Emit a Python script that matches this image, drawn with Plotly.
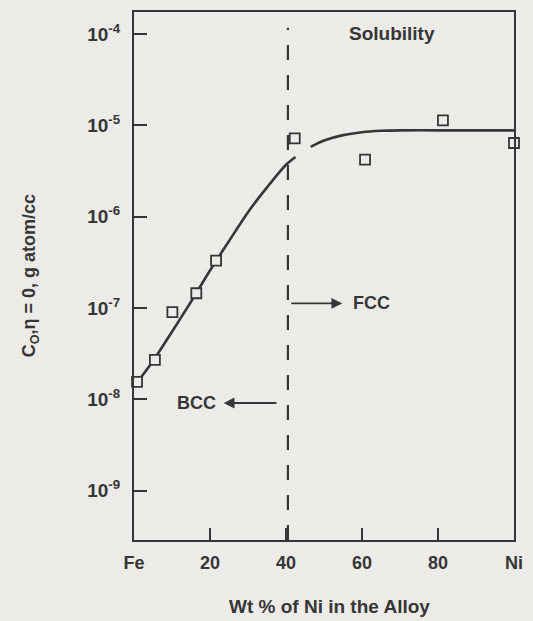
import plotly.graph_objects as go

# Data
pts_x = [0.8, 5.5, 10.1, 16.4, 21.6, 42.3, 60.8, 81.3, 100]
pts_y = [1.55e-8, 2.7e-8, 9.0e-8, 1.45e-7, 3.3e-7, 7.2e-6, 4.2e-6, 1.13e-5, 6.4e-6]

curve_x = [0, 5, 10, 15, 20, 25, 30, 35, 40, 42.5, None, 46.5, 50, 55, 60, 65, 70, 80, 90, 100]
curve_y = [1.38e-8, 2.63e-8, 5.5e-8, 1.17e-7, 2.57e-7, 5.4e-7, 1.12e-6, 2.09e-6, 3.7e-6, 4.5e-6, None,
           5.8e-6, 6.8e-6, 7.8e-6, 8.4e-6, 8.7e-6, 8.8e-6, 8.8e-6, 8.8e-6, 8.8e-6]

x_ticks = [0, 20, 40, 60, 80, 100]
x_labels = ["Fe", "20", "40", "60", "80", "Ni"]
y_ticks = [1e-9, 1e-8, 1e-7, 1e-6, 1e-5, 1e-4]
y_labels = ["10<sup>-9</sup>", "10<sup>-8</sup>", "10<sup>-7</sup>", "10<sup>-6</sup>",
            "10<sup>-5</sup>", "10<sup>-4</sup>"]

bg = "#ecebe8"
ink = "#363636"

fig = go.Figure()
fig.add_trace(go.Scatter(x=curve_x, y=curve_y, mode="lines",
                         line=dict(color=ink, width=2.6, shape="spline", smoothing=0.8),
                         connectgaps=False, hoverinfo="skip", showlegend=False, cliponaxis=False))
fig.add_trace(go.Scatter(x=pts_x, y=pts_y, mode="markers",
                         marker=dict(symbol="square", size=10, color=bg, line=dict(color=ink, width=1.8)),
                         showlegend=False, cliponaxis=False))

fig.add_shape(type="line", xref="x", yref="paper", x0=40.5, x1=40.5, y0=0, y1=0.97,
              line=dict(color=ink, width=2.2, dash="longdash"))

font = "Liberation Sans, Arial, sans-serif"
# FCC arrow
fig.add_annotation(x=54.8, y=-6.95, ax=41, ay=-6.95, xref="x", yref="y", axref="x", ayref="y",
                   showarrow=True, arrowhead=2, arrowsize=1.2, arrowwidth=1.8, arrowcolor=ink, text="")
fig.add_annotation(x=62.6, y=-6.95, xref="x", yref="y", text="<b>FCC</b>", showarrow=False,
                   font=dict(family=font, size=18, color=ink))
# BCC arrow
fig.add_annotation(x=23.6, y=-8.04, ax=37.9, ay=-8.04, xref="x", yref="y", axref="x", ayref="y",
                   showarrow=True, arrowhead=2, arrowsize=1.2, arrowwidth=1.8, arrowcolor=ink, text="")
fig.add_annotation(x=16.5, y=-8.04, xref="x", yref="y", text="<b>BCC</b>", showarrow=False,
                   font=dict(family=font, size=18, color=ink))
fig.add_annotation(x=67.9, y=-3.99, xref="x", yref="y", text="<b>Solubility</b>", showarrow=False,
                   font=dict(family=font, size=19, color=ink))

# Axis titles
fig.add_annotation(x=0.514, y=-0.126, xref="paper", yref="paper", text="<b>Wt % of Ni in the Alloy</b>",
                   showarrow=False, font=dict(family=font, size=19, color=ink), yanchor="middle")
fig.add_annotation(x=-0.273, y=0.5, xref="paper", yref="paper", text="<b>C<sub>O</sub>,η = 0, g atom/cc</b>",
                   showarrow=False, textangle=-90, font=dict(family=font, size=18, color=ink), xanchor="center")

fig.update_layout(
    width=533, height=621,
    margin=dict(l=134, r=14, t=10, b=81),
    paper_bgcolor=bg, plot_bgcolor=bg,
    font=dict(family=font, color=ink, size=13),
    xaxis=dict(range=[0, 100], tickvals=x_ticks, ticktext=["<b>%s</b>" % t for t in x_labels],
               ticks="inside", ticklen=12, ticklabelstandoff=5,
               tickwidth=2, tickcolor=ink, showline=True, mirror=True, linecolor=ink, linewidth=2.2,
               showgrid=False, zeroline=False, tickfont=dict(size=18, color=ink)),
    yaxis=dict(type="log", range=[-9.54, -3.76], tickvals=y_ticks, ticktext=["<b>%s</b>" % t for t in y_labels],
               ticks="inside", ticklabelstandoff=8,
               ticklen=13, tickwidth=2, tickcolor=ink, showline=True, mirror=True, linecolor=ink,
               linewidth=2.2, showgrid=False, zeroline=False, tickfont=dict(size=19, color=ink)),
)

fig.write_html("out.html")
